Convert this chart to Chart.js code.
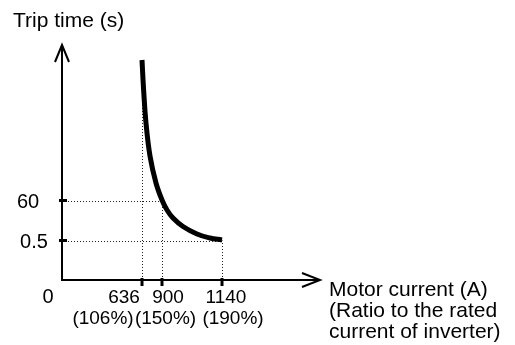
<!DOCTYPE html>
<html>
<head>
<meta charset="utf-8">
<script src="https://cdn.jsdelivr.net/npm/chart.js@4"></script>
<style>
  html, body { margin: 0; padding: 0; background: #fff; }
</style>
</head>
<body>
<canvas id="graficoTrip" width="515" height="345"></canvas>
<script>
// O desenho original e esquematico (eixos fora de escala),
// entao os valores de posicao abaixo sao unidades do esquema.
const correnteTicks = ['636', '900', '1140'];
const correntePos = [80, 100, 160];
const razaoLabels = ['(106%)', '(150%)', '(190%)'];
const tempoTicks = ['0.5', '60'];
const tempoPos = [39.5, 79.5];
const curvaX = [80, 81.5, 84, 88, 94, 100, 105, 111, 121, 135, 148, 160];
const curvaY = [220, 192, 157, 124, 97, 80, 70, 62, 53.5, 46, 42, 40];

const FONTE = '21px "Liberation Sans", Arial, sans-serif';
const FONTE_TICK_X = '19px "Liberation Sans", Arial, sans-serif';
const FONTE_TICK_Y = '20px "Liberation Sans", Arial, sans-serif';
// deslocamentos dos textos dos ticks (px) em relacao ao tick
const dxValor = [-18, 6, 4];
const dxRazao = [-39, 3.5, 11];

const eixosPlugin = {
    id: 'eixos',
    beforeDatasetsDraw(chart) {
        const { ctx, scales: { x, y } } = chart;
        const x0 = x.getPixelForValue(0);
        const y0 = y.getPixelForValue(0);
        ctx.save();
        ctx.strokeStyle = '#222';
        ctx.lineWidth = 1;
        ctx.setLineDash([1, 2]);
        // linhas pontilhadas horizontais ate a curva
        const alvoX = [correntePos[2], correntePos[1]];
        tempoPos.forEach((v, i) => {
            const py = Math.round(y.getPixelForValue(v)) + 0.5;
            ctx.beginPath();
            ctx.moveTo(x0, py);
            ctx.lineTo(x.getPixelForValue(alvoX[i]), py);
            ctx.stroke();
        });
        // linhas pontilhadas verticais
        const alvoY = [curvaY[0], tempoPos[1], tempoPos[0]];
        correntePos.forEach((v, i) => {
            const px = Math.round(x.getPixelForValue(v)) + 0.5;
            ctx.beginPath();
            ctx.moveTo(px, y0);
            ctx.lineTo(px, y.getPixelForValue(alvoY[i]));
            ctx.stroke();
        });
        ctx.restore();
    },
    afterDraw(chart) {
        const { ctx, scales: { x, y } } = chart;
        const x0 = x.getPixelForValue(0);
        const y0 = y.getPixelForValue(0);
        const xMax = x.getPixelForValue(x.max);
        const yMax = y.getPixelForValue(y.max);
        ctx.save();
        ctx.strokeStyle = '#000';
        ctx.fillStyle = '#000';
        ctx.lineWidth = 2;
        ctx.setLineDash([]);
        // eixos
        ctx.beginPath();
        ctx.moveTo(x0, y0 + 1);
        ctx.lineTo(x0, yMax + 1);
        ctx.moveTo(x0 - 1, y0);
        ctx.lineTo(xMax - 1, y0);
        ctx.stroke();
        // setas
        ctx.beginPath();
        ctx.moveTo(x0 - 7, yMax + 17);
        ctx.lineTo(x0, yMax);
        ctx.lineTo(x0 + 7, yMax + 17);
        ctx.moveTo(xMax - 18, y0 - 7);
        ctx.lineTo(xMax, y0);
        ctx.lineTo(xMax - 18, y0 + 7);
        ctx.stroke();
        // marcas
        tempoPos.forEach(v => {
            const py = y.getPixelForValue(v);
            ctx.fillRect(x0 - 3, py - 1.5, 8, 3);
        });
        correntePos.forEach(v => {
            const px = x.getPixelForValue(v);
            ctx.fillRect(px - 1.5, y0 - 2, 3, 8);
        });
        // textos
        ctx.textAlign = 'center';
        ctx.textBaseline = 'alphabetic';
        ctx.font = FONTE_TICK_Y;
        ctx.fillText('0', x0 - 14, y0 + 23);
        const dxTempo = [-28, -34];
        tempoTicks.forEach((t, i) => {
            ctx.fillText(t, x0 + dxTempo[i], y.getPixelForValue(tempoPos[i]) + 7);
        });
        ctx.font = FONTE_TICK_X;
        correntePos.forEach((v, i) => {
            const px = x.getPixelForValue(v);
            ctx.fillText(correnteTicks[i], px + dxValor[i], y0 + 23);
            ctx.fillText(razaoLabels[i], px + dxRazao[i], y0 + 44);
        });
        ctx.font = FONTE;
        ctx.textAlign = 'left';
        ctx.fillText('Trip time (s)', 13, 27);
        ctx.fillText('Motor current (A)', xMax + 9, y0 + 16);
        ctx.fillText('(Ratio to the rated', xMax + 9, y0 + 37);
        ctx.fillText('current of inverter)', xMax + 9, y0 + 58);
        ctx.restore();
    }
};

const ctx = document.getElementById('graficoTrip').getContext('2d');
new Chart(ctx, {
    type: 'line',
    data: {
        datasets: [{
            data: curvaX.map((v, i) => ({ x: v, y: curvaY[i] })),
            borderColor: '#000',
            borderWidth: 5,
            pointRadius: 0,
            fill: false,
            tension: 0.4,
            borderCapStyle: 'butt'
        }]
    },
    options: {
        responsive: false,
        animation: false,
        layout: {
            padding: { left: 62, top: 45, right: 195, bottom: 65 }
        },
        scales: {
            x: { type: 'linear', min: 0, max: 258, display: false },
            y: { type: 'linear', min: 0, max: 235, display: false }
        },
        plugins: {
            legend: { display: false },
            tooltip: { enabled: false }
        }
    },
    plugins: [eixosPlugin]
});
</script>
</body>
</html>
